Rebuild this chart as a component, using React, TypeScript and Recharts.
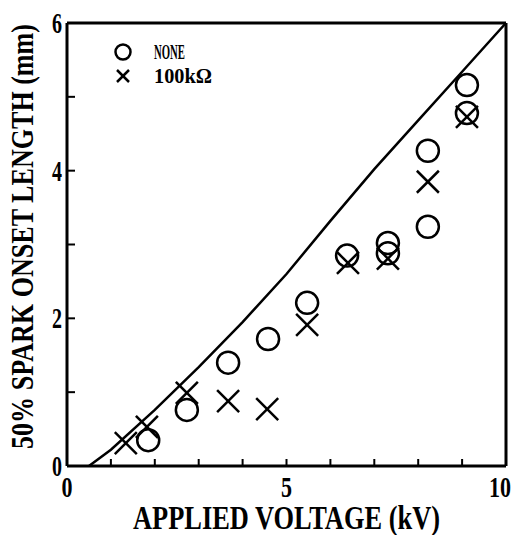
import { ScatterChart, Scatter, XAxis, YAxis, ReferenceLine, Legend } from "recharts";

// theoretical onset curve
const curveX = [0.5, 1, 2, 3, 4, 5, 6, 7, 8, 9, 10];
const curveY = [0, 0.22, 0.76, 1.34, 1.95, 2.6, 3.32, 4.02, 4.68, 5.34, 6];

// measured: no series resistor
const noneX = [1.85, 2.73, 3.67, 4.58, 5.47, 6.38, 7.31, 7.31, 8.22, 8.22, 9.11, 9.11];
const noneY = [0.35, 0.76, 1.4, 1.72, 2.21, 2.85, 3.02, 2.88, 4.27, 3.24, 5.16, 4.78];

// measured: 100 kOhm
const resX = [1.34, 1.82, 2.73, 3.67, 4.56, 5.47, 6.4, 7.31, 8.22, 9.11];
const resY = [0.31, 0.53, 0.99, 0.88, 0.77, 1.91, 2.75, 2.81, 3.85, 4.73];

const xTicks = [0, 1, 2, 3, 4, 5, 6, 7, 8, 9, 10];
const xLabels = [0, 5, 10];
const yTicks = [0, 1, 2, 3, 4, 5, 6];
const yLabels = [0, 2, 4, 6];
const legendOrder = ["NONE", "100kΩ"];

const zip = (xs: number[], ys: number[]) => xs.map((x, i) => ({ x, y: ys[i] }));
const curve = zip(curveX, curveY);
const none = zip(noneX, noneY);
const res = zip(resX, resY);

const FONT = "'Liberation Serif', 'DejaVu Serif', serif";

function XTick(props: any) {
  const { x, y, payload } = props;
  const v = payload.value;
  const label = xLabels.includes(v) ? String(v) : null;
  const last = v === 10;
  return (
    <g>
      {v > 0 && v < 10 && <line x1={x} y1={y} x2={x} y2={y - 7} stroke="#000" strokeWidth={2} />}
      {label && (
        <text
          x={last ? x + 5 : x}
          y={y + 31}
          textAnchor={last ? "end" : "middle"}
          fontFamily={FONT}
          fontWeight="bold"
          fontSize={29}
          textLength={label.length * 11}
          lengthAdjust="spacingAndGlyphs"
          fill="#000"
        >
          {label}
        </text>
      )}
    </g>
  );
}

function YTick(props: any) {
  const { x, y, payload } = props;
  const v = payload.value;
  const label = yLabels.includes(v) ? String(v) : null;
  return (
    <g>
      {v > 0 && v < 6 && <line x1={x} y1={y} x2={x + 8} y2={y} stroke="#000" strokeWidth={2} />}
      {label && (
        <text
          x={x - 5}
          y={y + 10}
          textAnchor="end"
          fontFamily={FONT}
          fontWeight="bold"
          fontSize={29}
          textLength={10}
          lengthAdjust="spacingAndGlyphs"
          fill="#000"
        >
          {label}
        </text>
      )}
    </g>
  );
}

const Ring = (p: any) => (
  <circle cx={p.cx} cy={p.cy} r={11} fill="none" stroke="#000" strokeWidth={2.5} />
);

const Cross = (p: any) => {
  const s = 11;
  return (
    <g stroke="#000" strokeWidth={2.5}>
      <line x1={p.cx - s} y1={p.cy - s} x2={p.cx + s} y2={p.cy + s} />
      <line x1={p.cx - s} y1={p.cy + s} x2={p.cx + s} y2={p.cy - s} />
    </g>
  );
};

function LegendBox(props: any) {
  const items = (props.payload || [])
    .filter((e: any) => legendOrder.includes(e.value))
    .sort((a: any, b: any) => legendOrder.indexOf(a.value) - legendOrder.indexOf(b.value));
  return (
    <svg width={130} height={56} style={{ display: "block" }}>
      {items.map((e: any, i: number) => {
        const cy = 14 + i * 24;
        return (
          <g key={e.value}>
            {e.value === "NONE" ? (
              <circle cx={13} cy={cy} r={7.5} fill="none" stroke="#000" strokeWidth={2.5} />
            ) : (
              <g stroke="#000" strokeWidth={2.5}>
                <line x1={7} y1={cy - 6} x2={19} y2={cy + 6} />
                <line x1={7} y1={cy + 6} x2={19} y2={cy - 6} />
              </g>
            )}
            <text
              x={44}
              y={cy + 7}
              fontFamily={FONT}
              fontWeight="bold"
              fontSize={20}
              textLength={e.value === "NONE" ? 31 : 58}
              lengthAdjust="spacingAndGlyphs"
              fill="#000"
            >
              {e.value}
            </text>
          </g>
        );
      })}
    </svg>
  );
}

export default function App() {
  return (
    <div style={{ position: "absolute", left: 0, top: 0, background: "#fff" }}>
      <ScatterChart width={513} height={535} margin={{ top: 23, right: 7, bottom: 0, left: 0 }}>
        <XAxis
          type="number"
          dataKey="x"
          domain={[0, 10]}
          ticks={xTicks}
          allowDataOverflow
          height={69}
          tickSize={0}
          tickMargin={0}
          tickLine={false}
          axisLine={{ stroke: "#000", strokeWidth: 3 }}
          tick={<XTick />}
          interval={0}
          label={{
            content: (p: any) => {
              const vb = p.viewBox;
              return (
                <text
                  x={vb.x + vb.width / 2}
                  y={vb.y + 63}
                  textAnchor="middle"
                  fontFamily={FONT}
                  fontWeight="bold"
                  fontSize={34}
                  textLength={307}
                  lengthAdjust="spacingAndGlyphs"
                  fill="#000"
                >
                  APPLIED VOLTAGE (kV)
                </text>
              );
            },
          }}
        />
        <YAxis
          type="number"
          dataKey="y"
          domain={[0, 6]}
          ticks={yTicks}
          allowDataOverflow
          width={67}
          tickSize={0}
          tickMargin={0}
          tickLine={false}
          axisLine={{ stroke: "#000", strokeWidth: 3 }}
          tick={<YTick />}
          interval={0}
          label={{
            content: (p: any) => {
              const vb = p.viewBox;
              const cx = 22;
              const cy = vb.y + vb.height / 2 - 8;
              return (
                <text
                  x={cx}
                  y={cy}
                  transform={`rotate(-90 ${cx} ${cy})`}
                  textAnchor="middle"
                  dominantBaseline="central"
                  fontFamily={FONT}
                  fontWeight="bold"
                  fontSize={31}
                  textLength={425}
                  lengthAdjust="spacingAndGlyphs"
                  fill="#000"
                >
                  50% SPARK ONSET LENGTH (mm)
                </text>
              );
            },
          }}
        />
        <ReferenceLine y={6} stroke="#000" strokeWidth={3} />
        <ReferenceLine x={10} stroke="#000" strokeWidth={3} />
        <Legend
          layout="horizontal"
          align="center"
          verticalAlign="middle"
          wrapperStyle={{ left: 110, top: 38, width: 130, height: 56 }}
          content={<LegendBox />}
        />
        <Scatter
          name="curve"
          data={curve}
          line={{ stroke: "#000", strokeWidth: 2.5 }}
          lineType="joint"
          shape={() => <g />}
          legendType="none"
          isAnimationActive={false}
        />
        <Scatter name="NONE" data={none} shape={Ring} isAnimationActive={false} />
        <Scatter name="100kΩ" data={res} shape={Cross} isAnimationActive={false} />
      </ScatterChart>
    </div>
  );
}
